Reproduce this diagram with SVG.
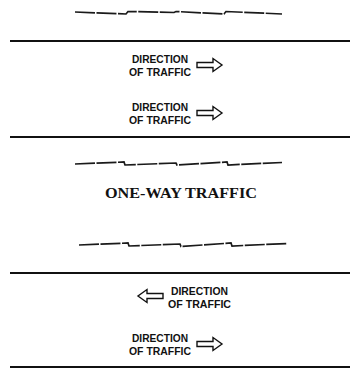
<svg xmlns="http://www.w3.org/2000/svg" width="360" height="371" viewBox="0 0 360 371">
<style>
.edge{stroke:#111;stroke-width:2;fill:none}
.brk{stroke:#1a1a1a;stroke-width:1.7;fill:none;stroke-dasharray:20 1.5;stroke-linejoin:miter}
.lbl{font-family:"Liberation Sans",Arial,sans-serif;font-weight:bold;font-size:11.3px;fill:#111}
.title{font-family:"Liberation Serif","Times New Roman",serif;font-weight:bold;font-size:15px;fill:#111}
.arrow{fill:#fff;stroke:#111;stroke-width:1.4;stroke-linejoin:miter}
</style>
<defs>
<path id="arr" d="M0,-2.5 H16 V-6.5 L25,0 L16,6.5 V2.5 H0 Z"/>
</defs>
<rect width="360" height="371" fill="#fff"/>
<g id="connectors">
<path class="brk" d="M75,12 L126,14 L128,11.5 L174,12.5 L176,11.5 L224,14 L226,11.5 L282,14"/>
<line class="edge" x1="10" y1="41" x2="350" y2="41"/>
<line class="edge" x1="10" y1="137" x2="350" y2="137"/>
<path class="brk" d="M75,164 L124,162 L125,165 L176,163 L177,165 L227,162 L228,165 L282,162.5"/>
<path class="brk" d="M79,245 L128,243 L129,246 L180,244 L181,246.5 L231,243 L232,246 L287,243.5"/>
<line class="edge" x1="10" y1="273" x2="350" y2="273"/>
<line class="edge" x1="10" y1="367" x2="350" y2="367"/>
</g>
<g id="lane1">
<text class="lbl" x="132" y="62.5" textLength="56" lengthAdjust="spacingAndGlyphs">DIRECTION</text>
<text class="lbl" x="129" y="75.5" textLength="62" lengthAdjust="spacingAndGlyphs">OF TRAFFIC</text>
<use href="#arr" class="arrow" transform="translate(197,65)"/>
</g>
<g id="lane2">
<text class="lbl" x="132" y="110.5" textLength="56" lengthAdjust="spacingAndGlyphs">DIRECTION</text>
<text class="lbl" x="129" y="123.5" textLength="62" lengthAdjust="spacingAndGlyphs">OF TRAFFIC</text>
<use href="#arr" class="arrow" transform="translate(197,113)"/>
</g>
<g id="title">
<text class="title" x="105" y="198" textLength="152" lengthAdjust="spacingAndGlyphs">ONE-WAY  TRAFFIC</text>
</g>
<g id="lane3">
<use href="#arr" class="arrow" transform="translate(163,296) scale(-1,1)"/>
<text class="lbl" x="171" y="294.5" textLength="57" lengthAdjust="spacingAndGlyphs">DIRECTION</text>
<text class="lbl" x="168" y="307.5" textLength="63" lengthAdjust="spacingAndGlyphs">OF TRAFFIC</text>
</g>
<g id="lane4">
<text class="lbl" x="132" y="341.5" textLength="56" lengthAdjust="spacingAndGlyphs">DIRECTION</text>
<text class="lbl" x="129" y="354.5" textLength="62" lengthAdjust="spacingAndGlyphs">OF TRAFFIC</text>
<use href="#arr" class="arrow" transform="translate(197,344)"/>
</g>
</svg>
